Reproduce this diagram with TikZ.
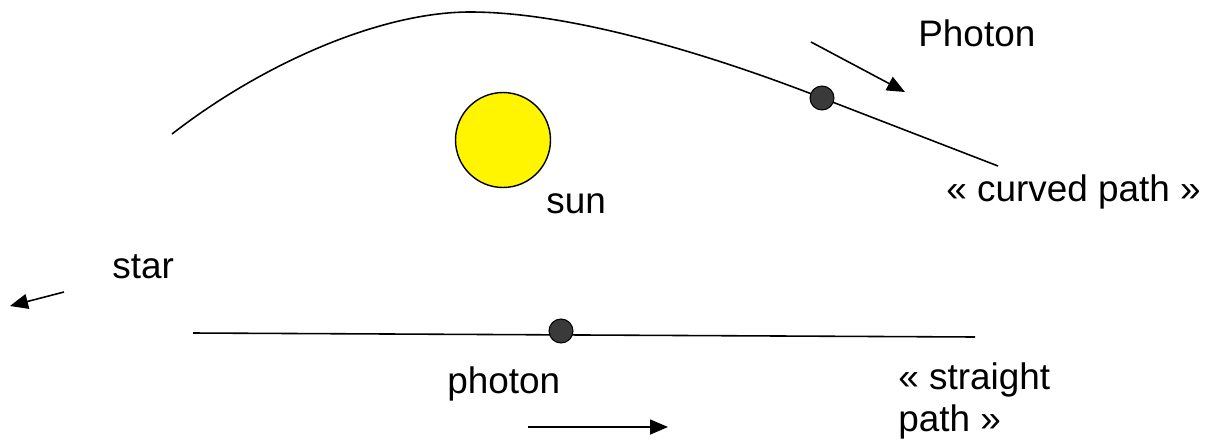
\documentclass[tikz,border=0pt]{standalone}
\usepackage{fontspec}
\setmainfont{Liberation Sans}
\usetikzlibrary{arrows.meta}
\definecolor{sunYellow}{HTML}{FFF500}
\definecolor{dotGray}{HTML}{3A3A3A}
\tikzset{
  sunball/.style={circle, draw=black, fill=sunYellow, line width=0.8pt,
        minimum size=1.9cm, inner sep=0pt},
  photondot/.style={circle, draw=black, fill=dotGray, line width=0.6pt,
        minimum size=0.48cm, inner sep=0pt},
  lab/.style={anchor=base west, inner sep=0pt, font=\fontsize{21}{25}\selectfont},
  path/.style={line width=0.9pt, draw=black},
  mv/.style={-{Triangle[length=3.6mm, width=3mm]}, line width=0.9pt, draw=black}
}
\begin{document}
\begin{tikzpicture}[x=0.02cm, y=-0.02cm]
\useasboundingbox (0,0) rectangle (1213,443);

% curved path round the sun
\coordinate (cstart) at (172,134);
\coordinate (ctop)   at (470,12);
\coordinate (cmid)   at (822,98);
\coordinate (cend)   at (998,166);
\node[sunball] (sun) at (503,140) {};
\draw[path] (cstart) .. controls (262,64) and (380,12) .. (ctop)
                     .. controls (580,12) and (730,62) .. (cmid) -- (cend);
\node[photondot] (cdot) at (cmid) {};

\node[lab] (photonup) at (918,46)  {Photon};
\node[lab] (curved)   at (946,201) {« curved path »};
\node[lab] (sunlab)   at (546,213) {sun};
\coordinate (upa) at (811,42);
\coordinate (upb) at (905,92);
\draw[mv] (upa) -- (upb);

% star side
\node[lab] (star) at (112,278) {star};
\coordinate (sta) at (64,292);
\coordinate (stb) at (10,306);
\draw[mv] (sta) -- (stb);

% straight path
\coordinate (sstart) at (193,333);
\coordinate (send)   at (975,337);
\draw[path] (sstart) -- (send);
\node[photondot] (sdot) at (561,331) {};

\node[lab] (photondown) at (447,393) {photon};
\node[lab] (straight)   at (898,389) {« straight};
\node[lab] (straight2)  at (898,431) {path »};
\coordinate (dna) at (528,427);
\coordinate (dnb) at (668,427);
\draw[mv] (dna) -- (dnb);
\end{tikzpicture}
\end{document}
